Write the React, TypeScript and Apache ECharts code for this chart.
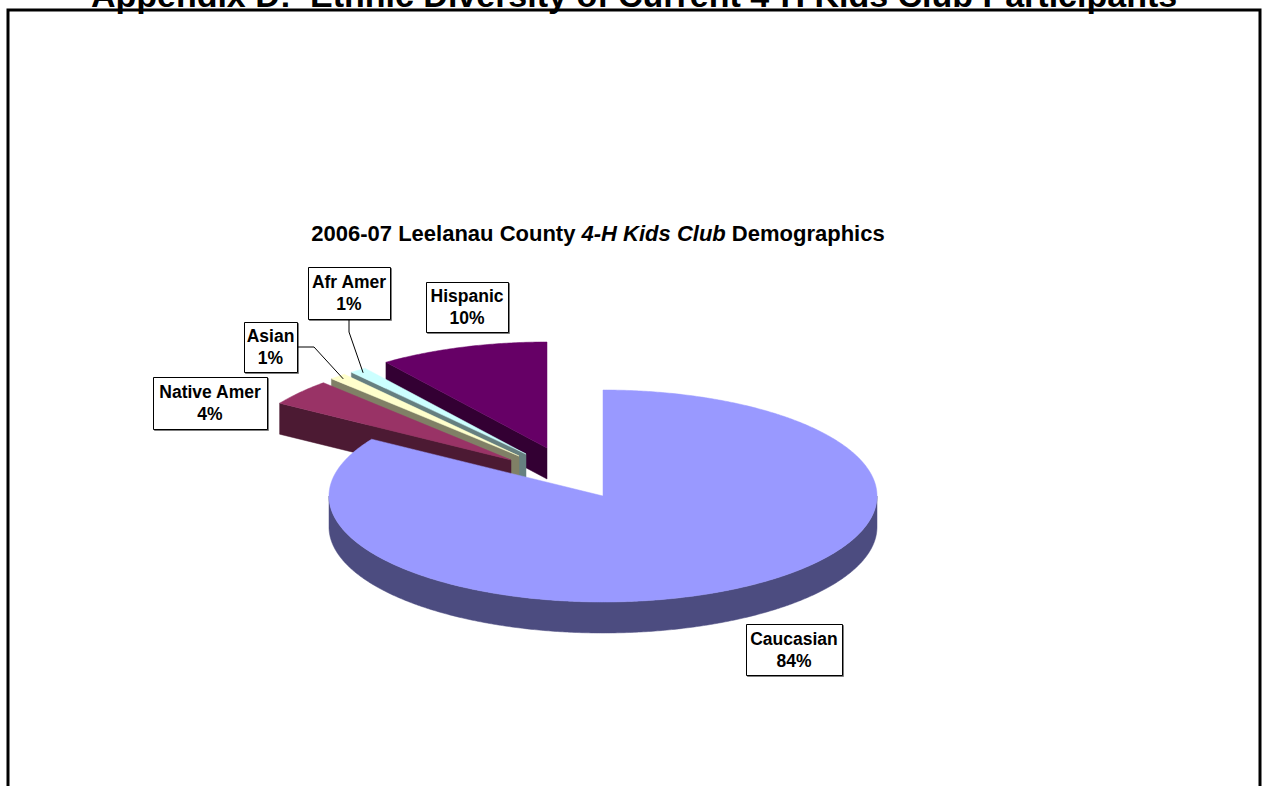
import React, { useEffect, useRef } from "react";
import * as echarts from "echarts";

// ---- data ----
const CATEGORIES = ["Caucasian", "Native Amer", "Asian", "Afr Amer", "Hispanic"];
const VALUES = [84, 4, 1, 1, 10];
const MAIN_TITLE = "Appendix D:  Ethnic Diversity of Current 4-H Kids Club Participants";
const SUB_TITLE_PARTS = ["2006-07 Leelanau County ", "4-H Kids Club", " Demographics"];

// ---- styles / layout ----
const TOP_COLORS = ["#9999FF", "#993366", "#FFFFCC", "#CCFFFF", "#660066"];
const SIDE_COLORS = ["#4C4C80", "#4C1A33", "#808066", "#668080", "#330033"];
const EXPLODE = [[0, 0], [-92, -36], [-84, -40], [-77, -42], [-56, -48]];
const LABEL_BOXES = [
  [746, 624, 96, 51],
  [153, 377, 114, 52],
  [244, 322, 53, 50],
  [308, 267, 82, 52],
  [426, 282, 82, 50],
];
// leader: [startX, startY, elbowX, elbowY] or null
const LEADERS = [null, null, [297, 347, 314, 347], [349, 319, 349, 332], null];
const CX = 603, CY = 496, RX = 274, RY = 106, DEPTH = 31;
const FONT = 'bold 17.5px "Liberation Sans", Arial, sans-serif';

const TOTAL = VALUES.reduce((a, b) => a + b, 0);
const STARTS: number[] = [];
{
  let acc = 0;
  VALUES.forEach((v) => { STARTS.push(acc); acc += v; });
}

function pt(theta: number, ox: number, oy: number, dz: number, k = 1): number[] {
  return [CX + ox + k * RX * Math.sin(theta), CY + oy - k * RY * Math.cos(theta) + dz];
}

function arcPts(a: number, b: number, ox: number, oy: number, dz: number): number[][] {
  const pts: number[][] = [];
  const n = Math.max(2, Math.ceil(((b - a) * 180) / Math.PI / 0.5));
  for (let i = 0; i <= n; i++) pts.push(pt(a + ((b - a) * i) / n, ox, oy, dz));
  return pts;
}

const renderItem = (params: any, api: any) => {
  const i = params.dataIndex;
  const v = api.value(0);
  const a = (STARTS[i] / TOTAL) * Math.PI * 2;
  const b = a + (v / TOTAL) * Math.PI * 2;
  const [ox, oy] = EXPLODE[i];
  const mid = (a + b) / 2;
  const front = -Math.cos(mid);
  const base = Math.round((front + 1) * 100) * 4;
  const children: any[] = [];
  const apex = [CX + ox, CY + oy];
  const apexB = [CX + ox, CY + oy + DEPTH];
  // start radial face
  const nS = a - Math.PI / 2;
  if (Math.cos(nS) < -0.001) {
    const p = pt(a, ox, oy, 0);
    children.push({
      type: "polygon", z2: base,
      shape: { points: [apex, p, [p[0], p[1] + DEPTH], apexB] },
      style: { fill: SIDE_COLORS[i], stroke: SIDE_COLORS[i], lineWidth: 0.5 },
    });
  }
  // end radial face
  const nE = b + Math.PI / 2;
  if (Math.cos(nE) < -0.001) {
    const p = pt(b, ox, oy, 0);
    children.push({
      type: "polygon", z2: base,
      shape: { points: [apex, p, [p[0], p[1] + DEPTH], apexB] },
      style: { fill: SIDE_COLORS[i], stroke: SIDE_COLORS[i], lineWidth: 0.5 },
    });
  }
  // outer arc face (front half only)
  const lo = Math.max(a, Math.PI / 2), hi = Math.min(b, (3 * Math.PI) / 2);
  if (hi > lo) {
    const top = arcPts(lo, hi, ox, oy, 0);
    const bot = arcPts(lo, hi, ox, oy, DEPTH).reverse();
    children.push({
      type: "polygon", z2: base + 1,
      shape: { points: top.concat(bot) },
      style: { fill: SIDE_COLORS[i], stroke: SIDE_COLORS[i], lineWidth: 0.5 },
    });
  }
  // top face
  children.push({
    type: "polygon", z2: base + 2,
    shape: { points: [apex].concat(arcPts(a, b, ox, oy, 0)) },
    style: { fill: TOP_COLORS[i], stroke: TOP_COLORS[i], lineWidth: 0.5 },
  });
  // leader line
  const ld = LEADERS[i];
  if (ld) {
    const end = pt(mid, ox, oy, 0, 0.97);
    children.push({
      type: "polyline", z2: 2000,
      shape: { points: [[ld[0], ld[1]], [ld[2], ld[3]], end] },
      style: { stroke: "#000", lineWidth: 1, fill: null },
    });
  }
  // label box
  const [bx, by, bw, bh] = LABEL_BOXES[i];
  const pct = Math.round((v / TOTAL) * 100) + "%";
  children.push({
    type: "rect", z2: 2001,
    shape: { x: bx + 0.5, y: by + 0.5, width: bw, height: bh },
    style: { fill: "#fff", stroke: "#000", lineWidth: 1, shadowColor: "rgba(0,0,0,0.5)", shadowOffsetX: 1, shadowOffsetY: 1, shadowBlur: 0 },
  });
  children.push({
    type: "text", z2: 2002,
    x: bx + bw / 2, y: by + bh / 2 - 11,
    style: { text: CATEGORIES[i], font: FONT, fill: "#000", textAlign: "center", textVerticalAlign: "middle" },
  });
  children.push({
    type: "text", z2: 2002,
    x: bx + bw / 2, y: by + bh / 2 + 11,
    style: { text: pct, font: FONT, fill: "#000", textAlign: "center", textVerticalAlign: "middle" },
  });
  return { type: "group", children };
};

export default function App() {
  const ref = useRef<HTMLDivElement>(null);
  useEffect(() => {
    if (!ref.current) return;
    const chart = echarts.init(ref.current, undefined, { renderer: "svg" });
    chart.setOption({
      animation: false,
      backgroundColor: "#fff",
      graphic: [
        {
          type: "rect",
          shape: { x: 8, y: 10, width: 1252, height: 900 },
          style: { fill: "none", stroke: "#000", lineWidth: 3 },
          z: 10,
        },
        {
          type: "text",
          x: 634, y: -5,
          style: {
            text: MAIN_TITLE,
            font: 'bold 34px "Liberation Sans", Arial, sans-serif',
            fill: "#000",
            textAlign: "center",
            textVerticalAlign: "middle",
          },
          z: 9,
        },
        {
          type: "text",
          x: 598, y: 233,
          style: {
            text: `{a|${SUB_TITLE_PARTS[0]}}{b|${SUB_TITLE_PARTS[1]}}{a|${SUB_TITLE_PARTS[2]}}`,
            textAlign: "center",
            textVerticalAlign: "middle",
            rich: {
              a: { font: 'bold 22px "Liberation Sans", Arial, sans-serif', fill: "#000" },
              b: { font: 'italic bold 22px "Liberation Sans", Arial, sans-serif', fill: "#000" },
            },
          },
        },
      ],
      series: [
        {
          type: "custom",
          coordinateSystem: "none",
          silent: true,
          renderItem,
          data: VALUES.map((v, i) => [v, i]),
        },
      ],
    });
    return () => chart.dispose();
  }, []);
  return (
    <div
      ref={ref}
      style={{ position: "fixed", left: 0, top: 0, width: 1263, height: 786 }}
    />
  );
}
